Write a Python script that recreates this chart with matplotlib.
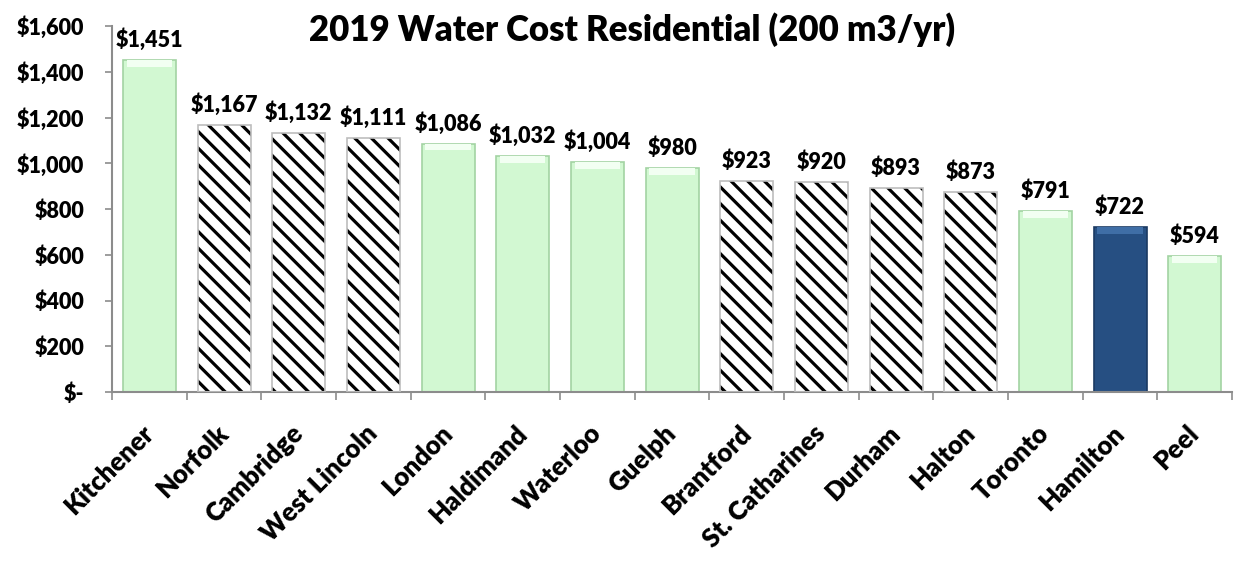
import matplotlib
matplotlib.use("Agg")
import matplotlib.pyplot as plt
from matplotlib.ticker import FixedLocator, FuncFormatter
import numpy as np

categories = ["Kitchener", "Norfolk", "Cambridge", "West Lincoln", "London",
              "Haldimand", "Waterloo", "Guelph", "Brantford", "St. Catharines",
              "Durham", "Halton", "Toronto", "Hamilton", "Peel"]
costs = [1451, 1167, 1132, 1111, 1086, 1032, 1004, 980, 923, 920, 893, 873, 791, 722, 594]
kind = ["plain", "hatch", "hatch", "hatch", "plain", "plain", "plain", "plain",
        "hatch", "hatch", "hatch", "hatch", "plain", "focus", "plain"]
yticks = [0, 200, 400, 600, 800, 1000, 1200, 1400, 1600]

plt.rcParams['font.family'] = ['Lato', 'DejaVu Sans']
plt.rcParams['hatch.linewidth'] = 2.3

W = "heavy"
BW = 0.71
BEVEL = 30  # height of the top highlight strip, in data units (style only)

fig = plt.figure(figsize=(12.35, 5.62), dpi=100)
ax = fig.add_axes([0.0907, 0.3025, 0.9069, 0.6512])

x = np.arange(len(categories))
for xi, v, k in zip(x, costs, kind):
    if k == "plain":
        ax.bar(xi, v, width=BW, color="#d2f8d2", edgecolor="#a3d3a3", linewidth=1.2, zorder=2)
        ax.bar(xi, -BEVEL, bottom=v, width=BW * 0.86, color="#f2fff2", linewidth=0, zorder=2.5)
    elif k == "focus":
        ax.bar(xi, v, width=BW, color="#264f82", edgecolor="#1a3a62", linewidth=1.2, zorder=2)
        ax.bar(xi, -BEVEL, bottom=v, width=BW * 0.86, color="#3f6ea6", linewidth=0, zorder=2.5)
    else:
        ax.bar(xi, v, width=BW, color="white", edgecolor="black", hatch="\\\\",
               linewidth=0, zorder=2)
        ax.bar(xi, v, width=BW, color="none", edgecolor="#bdbdbd", linewidth=1.2, zorder=3)
    ax.annotate(f"${v:,}", (xi, v), xytext=(0, 6.5), textcoords="offset points",
                ha="center", va="bottom", fontsize=15.5, fontweight=W, color="black")

ax.set_xlim(-0.5, len(categories) - 0.5)
ax.set_ylim(0, 1600)
ax.set_yticks(yticks)
ax.yaxis.set_major_formatter(FuncFormatter(lambda v, p: "$-" if v == 0 else f"${int(v):,}"))
ax.set_xticks(x)
ax.set_xticklabels(categories, rotation=45, ha="right", va="center", rotation_mode="anchor",
                   fontsize=18.5, fontweight=W)
ax.xaxis.set_minor_locator(FixedLocator(np.arange(-0.5, len(categories), 1.0)))
ax.tick_params(axis="x", which="major", length=0, pad=27)
ax.tick_params(axis="x", which="minor", length=6, color="#8c8c8c", width=1.2, direction="out")
ax.tick_params(axis="y", length=5, color="#8c8c8c", width=1.2, direction="out", pad=15,
               labelsize=15.5)
for lab in ax.get_yticklabels():
    lab.set_fontweight(W)
for s in ["top", "right"]:
    ax.spines[s].set_visible(False)
for s in ["left", "bottom"]:
    ax.spines[s].set_color("#8c8c8c")
    ax.spines[s].set_linewidth(1.5)

fig.text(0.512, 0.948, "2019 Water Cost Residential (200 m3/yr)", ha="center", va="center",
         fontsize=25, fontweight=W)

fig.savefig("out.png", dpi=100)
